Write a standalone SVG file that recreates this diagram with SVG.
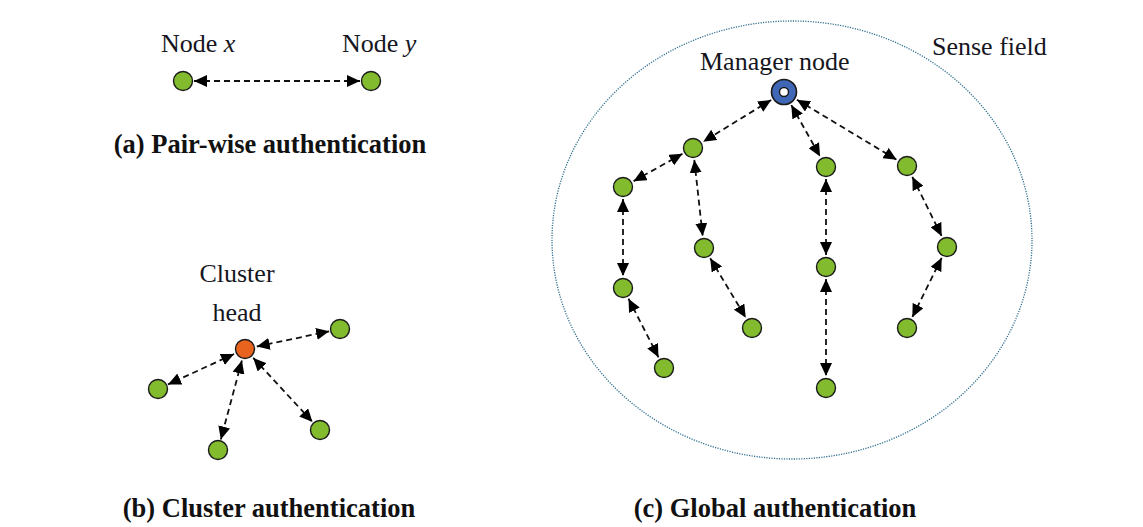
<svg xmlns="http://www.w3.org/2000/svg" width="1143" height="527" viewBox="0 0 1143 527">
<style>
text{font-family:'Liberation Serif','DejaVu Serif','Noto Serif',serif}
.lbl{font-size:26px;fill:#16161e}
.cap{font-size:26.5px;font-weight:bold;fill:#111;text-anchor:middle}
.g{fill:#82bc2e;stroke:#1a1a1a;stroke-width:1.4}
.o{fill:#e8641e;stroke:#1a1a1a;stroke-width:1.4}
.c line{stroke:#111;stroke-width:1.8;stroke-dasharray:6 4;marker-start:url(#ah);marker-end:url(#ah)}
</style>
<defs>
<marker id="ah" markerUnits="userSpaceOnUse" markerWidth="14" markerHeight="12" refX="13" refY="6" orient="auto-start-reverse" viewBox="0 0 14 12">
<path d="M0,0 L13,6 L0,12 z" fill="#000"/>
</marker>
</defs>
<rect width="1143" height="527" fill="#fff"/>

<ellipse id="sense-field" cx="792" cy="240" rx="240" ry="219" fill="none" stroke="#2f6f8f" stroke-width="1.3" stroke-dasharray="1.2 1.3"/>

<g id="connectors" class="c">
<line x1="194" y1="81" x2="360" y2="81"/>
<line x1="256.8" y1="346.5" x2="329.2" y2="331.3"/>
<line x1="234.1" y1="354" x2="168" y2="384.4"/>
<line x1="241.9" y1="360.6" x2="220.8" y2="439.4"/>
<line x1="253.2" y1="357.8" x2="312.5" y2="421.9"/>
<line x1="771.2" y1="99.9" x2="703.2" y2="141.7"/>
<line x1="791.3" y1="105.1" x2="820.1" y2="156.5"/>
<line x1="796.9" y1="99.7" x2="896.7" y2="159.8"/>
<line x1="682.5" y1="153.8" x2="633.5" y2="181.2"/>
<line x1="694.3" y1="159.9" x2="702.7" y2="236.1"/>
<line x1="623" y1="199" x2="623" y2="276"/>
<line x1="628.5" y1="298.7" x2="658.5" y2="357.3"/>
<line x1="710.2" y1="258.3" x2="745.8" y2="317.7"/>
<line x1="826" y1="179" x2="826" y2="255"/>
<line x1="826" y1="279" x2="826" y2="376"/>
<line x1="912.3" y1="176.8" x2="941.7" y2="236.2"/>
<line x1="941.7" y1="257.8" x2="912.3" y2="317.2"/>
</g>

<g id="node-x"><circle class="g" cx="183" cy="81" r="9.5"/><text class="lbl" x="161" y="52">Node <tspan font-style="italic">x</tspan></text></g>
<g id="node-y"><circle class="g" cx="371" cy="81" r="9.5"/><text class="lbl" x="342" y="52">Node <tspan font-style="italic">y</tspan></text></g>
<text class="cap" x="270" y="153">(a) Pair-wise authentication</text>

<g id="cluster-head"><circle class="o" cx="245" cy="349" r="9.5"/><text class="lbl" x="237" y="282" text-anchor="middle">Cluster</text><text class="lbl" x="237" y="321" text-anchor="middle">head</text></g>
<g id="b1"><circle class="g" cx="340" cy="329" r="9.5"/></g>
<g id="b2"><circle class="g" cx="158" cy="389" r="9.5"/></g>
<g id="b3"><circle class="g" cx="218" cy="450" r="9.5"/></g>
<g id="b4"><circle class="g" cx="320" cy="430" r="9.5"/></g>
<text class="cap" x="269" y="517">(b) Cluster authentication</text>

<g id="manager"><circle cx="784" cy="92" r="12.5" fill="#3f67b5" stroke="#1a1a1a" stroke-width="1.6"/><circle cx="784" cy="92" r="4.5" fill="#fff" stroke="#1a1a1a" stroke-width="1.4"/><text class="lbl" x="700" y="70">Manager node</text></g>
<text class="lbl" x="932" y="55">Sense field</text>
<g id="c1"><circle class="g" cx="693" cy="148" r="9.5"/></g>
<g id="c2"><circle class="g" cx="623" cy="187" r="9.5"/></g>
<g id="c3"><circle class="g" cx="623" cy="288" r="9.5"/></g>
<g id="c4"><circle class="g" cx="664" cy="368" r="9.5"/></g>
<g id="c5"><circle class="g" cx="704" cy="248" r="9.5"/></g>
<g id="c6"><circle class="g" cx="752" cy="328" r="9.5"/></g>
<g id="c7"><circle class="g" cx="826" cy="167" r="9.5"/></g>
<g id="c8"><circle class="g" cx="826" cy="267" r="9.5"/></g>
<g id="c9"><circle class="g" cx="826" cy="388" r="9.5"/></g>
<g id="c10"><circle class="g" cx="907" cy="166" r="9.5"/></g>
<g id="c11"><circle class="g" cx="947" cy="247" r="9.5"/></g>
<g id="c12"><circle class="g" cx="907" cy="328" r="9.5"/></g>
<text class="cap" x="775" y="517">(c) Global authentication</text>
</svg>
